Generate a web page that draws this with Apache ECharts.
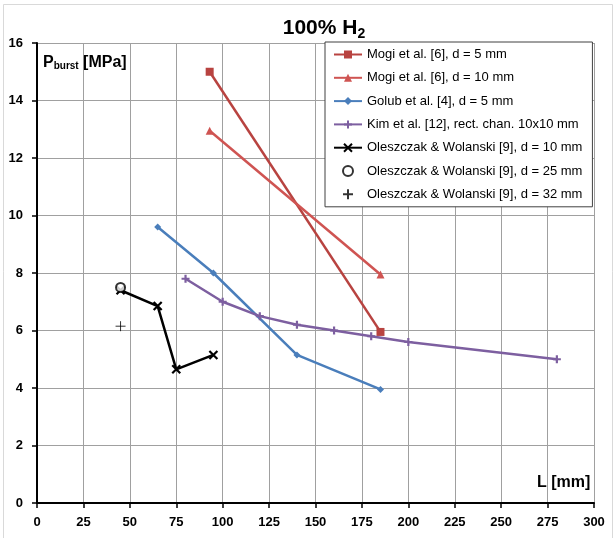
<!DOCTYPE html>
<html>
<head>
<meta charset="utf-8">
<script src="https://cdn.jsdelivr.net/npm/echarts@6/dist/echarts.min.js"></script>
<style>
html,body{margin:0;padding:0;background:#fff;}
#chart{width:615px;height:538px;}
</style>
</head>
<body>
<div id="chart"></div>
<script>
// ---- data ----
const seriesNames = [
  'Mogi et al. [6], d = 5 mm',
  'Mogi et al. [6], d = 10 mm',
  'Golub et al. [4], d = 5 mm',
  'Kim et al. [12], rect. chan. 10x10 mm',
  'Oleszczak & Wolanski [9], d = 10 mm',
  'Oleszczak & Wolanski [9], d = 25 mm',
  'Oleszczak & Wolanski [9], d = 32 mm'
];
const mogi5 = [[93, 15.0], [185, 5.95]];
const mogi10 = [[93, 12.95], [185, 7.95]];
const golub5 = [[65, 9.6], [95, 8.0], [140, 5.15], [185, 3.95]];
const kim = [[80, 7.8], [100, 7.0], [120, 6.5], [140, 6.2], [160, 6.0], [180, 5.8], [200, 5.6], [280, 5.0]];
const olesz10 = [[45, 7.4], [65, 6.85], [75, 4.65], [95, 5.15]];
const olesz25 = [[45, 7.5]];
const olesz32 = [[45, 6.15]];
const xTicks = [0, 300, 25];
const yTicks = [0, 16, 2];

const PLUS = 'path://M5,0 L5,10 M0,5 L10,5';
const CROSS = 'path://M0,0 L10,10 M10,0 L0,10';
const FONT = 'Liberation Sans';

const chart = echarts.init(document.getElementById('chart'), null, {renderer: 'canvas'});

function lineSeries(name, data, color, symbol, size, bw) {
  return {
    name: name, type: 'line', data: data,
    symbol: symbol, symbolSize: size, showSymbol: true,
    lineStyle: {color: color, width: 2.5},
    itemStyle: {color: color, borderColor: color, borderWidth: bw},
    z: 3
  };
}

const option = {
  animation: false,
  backgroundColor: '#fff',
  grid: {left: 37, right: 21, top: 43, bottom: 35, containLabel: false},
  title: {
    text: '100% H{sub|2}',
    left: 319, top: 11, textAlign: 'center',
    textStyle: {
      fontFamily: FONT, fontSize: 21, fontWeight: 'bold', color: '#000',
      rich: {sub: {fontFamily: FONT, fontSize: 14, fontWeight: 'bold', color: '#000', verticalAlign: 'bottom', padding: [11, 0, 0, 0]}}
    }
  },
  legend: {
    orient: 'vertical', left: 325, top: 42,
    backgroundColor: '#fff', borderColor: '#404040', borderWidth: 1,
    padding: [6, 10, 6, 8],
    itemWidth: 28, itemHeight: 10, itemGap: 10.3,
    textStyle: {fontFamily: FONT, fontSize: 13, color: '#000'},
    data: seriesNames
  },
  xAxis: {
    type: 'value', min: xTicks[0], max: xTicks[1], interval: xTicks[2],
    axisLine: {onZero: false, lineStyle: {color: '#000', width: 2}},
    axisTick: {show: true, length: 5, lineStyle: {color: '#000', width: 1.5}},
    axisLabel: {margin: 13, fontFamily: FONT, fontSize: 13, fontWeight: 'bold', color: '#000'},
    splitLine: {show: true, lineStyle: {color: '#a0a0a0', width: 1}}
  },
  yAxis: {
    type: 'value', min: yTicks[0], max: yTicks[1], interval: yTicks[2],
    axisLine: {onZero: false, lineStyle: {color: '#000', width: 2}},
    axisTick: {show: true, length: 5, lineStyle: {color: '#000', width: 1.5}},
    axisLabel: {margin: 14, fontFamily: FONT, fontSize: 13, fontWeight: 'bold', color: '#000'},
    splitLine: {show: true, lineStyle: {color: '#a0a0a0', width: 1}}
  },
  graphic: [
    {type: 'rect', silent: true, z: -10, shape: {x: 3.5, y: 4.5, width: 609, height: 540},
     style: {fill: 'none', stroke: '#d9d9d9', lineWidth: 1}},
    {type: 'text', left: 43, top: 55, z: 10,
     style: {text: 'P{sub|burst} [MPa]', fontFamily: FONT, fontSize: 16, fontWeight: 'bold', fill: '#000',
       rich: {sub: {fontFamily: FONT, fontSize: 10, fontWeight: 'bold', fill: '#000', padding: [7, 0, 0, 0]}}}},
    {type: 'text', left: 537, top: 475, z: 10,
     style: {text: 'L [mm]', fontFamily: FONT, fontSize: 16, fontWeight: 'bold', fill: '#000'}}
  ],
  series: [
    lineSeries(seriesNames[0], mogi5, '#B84340', 'rect', 8, 0),
    lineSeries(seriesNames[1], mogi10, '#CF5452', 'triangle', 8, 0),
    lineSeries(seriesNames[2], golub5, '#4A7EBB', 'diamond', 7, 0),
    lineSeries(seriesNames[3], kim, '#7D5FA0', PLUS, 8, 2.2),
    lineSeries(seriesNames[4], olesz10, '#000000', CROSS, 8, 2.2),
    {
      name: seriesNames[5], type: 'scatter', data: olesz25,
      symbol: 'circle', symbolSize: 9,
      itemStyle: {color: '#fff', borderColor: '#000', borderWidth: 2}, z: 4
    },
    {
      name: seriesNames[6], type: 'scatter', data: olesz32,
      symbol: PLUS, symbolSize: 10,
      itemStyle: {color: '#000', borderColor: '#000', borderWidth: 1}, z: 4
    }
  ]
};
chart.setOption(option);
</script>
</body>
</html>
